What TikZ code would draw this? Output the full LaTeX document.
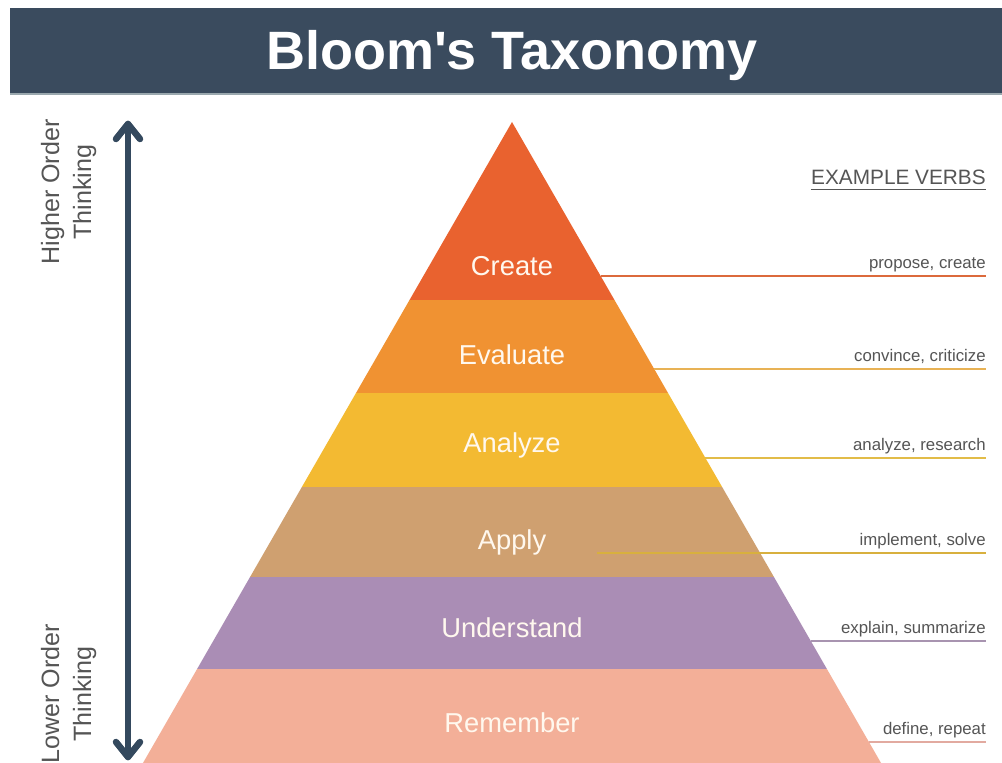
\documentclass[tikz,border=0pt]{standalone}
\usepackage{fontspec}
\setmainfont{Liberation Sans}
\begin{document}
\begin{tikzpicture}[x=0.75pt,y=-0.75pt]
% palette
\definecolor{barblue}{HTML}{3A4B5E}
\definecolor{barline}{HTML}{9AA8AE}
\definecolor{arrowblue}{HTML}{34495E}
\definecolor{cCreate}{HTML}{E9622F}
\definecolor{cEvaluate}{HTML}{F09232}
\definecolor{cAnalyze}{HTML}{F3BA32}
\definecolor{cApply}{HTML}{CFA070}
\definecolor{cUnderstand}{HTML}{AA8DB5}
\definecolor{cRemember}{HTML}{F3AF98}
\definecolor{lCreate}{HTML}{DC6A3C}
\definecolor{lEvaluate}{HTML}{E8B255}
\definecolor{lAnalyze}{HTML}{E2BC48}
\definecolor{lApply}{HTML}{D8B03E}
\definecolor{lUnderstand}{HTML}{A894B0}
\definecolor{lRemember}{HTML}{E2AAA0}
\definecolor{labelcream}{HTML}{FFF8EE}
\definecolor{textgray}{HTML}{555555}
\tikzset{
  title/.style={anchor=base, inner sep=0pt, text=white, font=\fontsize{40.5}{48}\selectfont\bfseries},
  level/.style={anchor=base, inner sep=0pt, text=labelcream, font=\fontsize{20.5}{24}\selectfont},
  verbline/.style={line width=2.2pt},
  verbtext/.style={anchor=base east, inner sep=0pt, text=textgray, font=\fontsize{12.6}{15}\selectfont},
  sidetext/.style={anchor=base, rotate=90, inner sep=0pt, text=textgray, font=\fontsize{18.8}{22}\selectfont},
  axis/.style={draw=arrowblue, line width=4.9pt, line cap=round, line join=round}
}
\useasboundingbox (0,0) rectangle (1002,763);
\fill[white] (0,0) rectangle (1002,763);

% title bar
\fill[barblue] (10,8) rectangle (1002,93);
\draw[barline, line width=1.2pt] (10,93.8) -- (1002,93.8);
\node[title] (title) at (512,70) {Bloom\textquotesingle s Taxonomy};

% pyramid bands: apex (512,122), half-width grows 0.5757 per unit down
\foreach \t/\b/\c in {122/300/cCreate, 300/393/cEvaluate, 393/487/cAnalyze,
                      487/577/cApply, 577/669/cUnderstand, 669/763/cRemember}{
  \fill[\c] ({512-0.5757*(\t-122)},\t) -- ({512+0.5757*(\t-122)},\t)
        -- ({512+0.5757*(\b-122)},\b) -- ({512-0.5757*(\b-122)},\b) -- cycle;
}

% level names
\node[level] (create) at (512,275) {Create};
\node[level] (evaluate) at (512,364) {Evaluate};
\node[level] (analyze) at (512,452) {Analyze};
\node[level] (apply) at (512,549) {Apply};
\node[level] (understand) at (512,637) {Understand};
\node[level] (remember) at (512,732) {Remember};

% example verbs
\node[verbtext, font=\fontsize{15.6}{18}\selectfont] (ev) at (986,185) {EXAMPLE VERBS};
\draw[textgray, line width=1.1pt] ([yshift=-3.2pt]ev.base west) -- ([yshift=-3.2pt]ev.base east);

\coordinate (s1) at ({512+0.5757*(276-122)},276);  \coordinate (e1) at (986,276);
\coordinate (s2) at ({512+0.5757*(369-122)},369);  \coordinate (e2) at (986,369);
\coordinate (s3) at ({512+0.5757*(458-122)},458);  \coordinate (e3) at (986,458);
\coordinate (s4) at (597,553);                      \coordinate (e4) at (986,553);
\coordinate (s5) at ({512+0.5757*(641-122)},641);  \coordinate (e5) at (986,641);
\coordinate (s6) at ({512+0.5757*(742-122)},742);  \coordinate (e6) at (986,742);

\draw[verbline, lCreate] (s1) -- (e1);
\draw[verbline, lEvaluate] (s2) -- (e2);
\draw[verbline, lAnalyze] (s3) -- (e3);
\draw[verbline, lApply] (s4) -- (e4);
\draw[verbline, lUnderstand] (s5) -- (e5);
\draw[verbline, lRemember] (s6) -- (e6);

\node[verbtext] (v1) at (986,268) {propose, create};
\node[verbtext] (v2) at (986,361) {convince, criticize};
\node[verbtext] (v3) at (986,450) {analyze, research};
\node[verbtext] (v4) at (986,545) {implement, solve};
\node[verbtext] (v5) at (986,633) {explain, summarize};
\node[verbtext] (v6) at (986,734) {define, repeat};

% thinking-order axis
\coordinate (atop) at (128,124);
\coordinate (abot) at (128,757);
\draw[axis] (atop) -- (abot);
\draw[axis] (116,139) -- (atop) -- (140,139);
\draw[axis] (116,742) -- (abot) -- (140,742);

\node[sidetext] (hi1) at (59,192) {Higher Order};
\node[sidetext] (hi2) at (91,192) {Thinking};
\node[sidetext] (lo1) at (59,694) {Lower Order};
\node[sidetext] (lo2) at (91,694) {Thinking};
\end{tikzpicture}
\end{document}
